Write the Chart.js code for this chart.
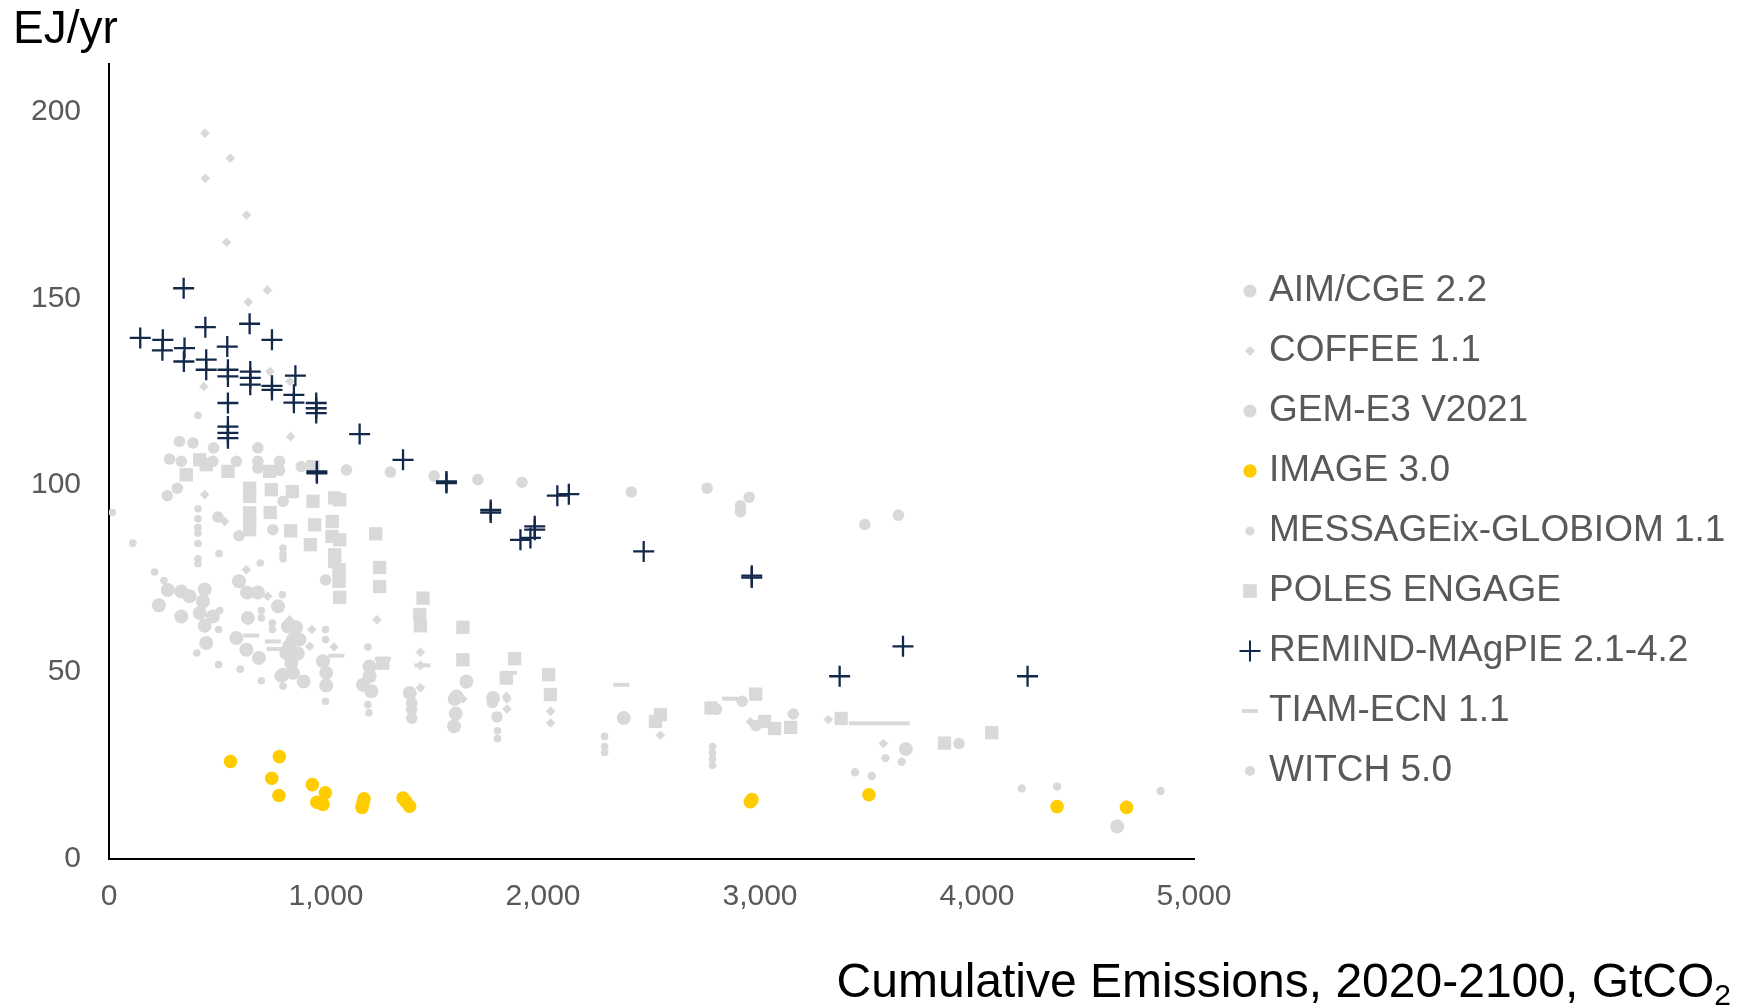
<!DOCTYPE html>
<html>
<head>
<meta charset="utf-8">
<script src="https://cdn.jsdelivr.net/npm/chart.js@4.4.1/dist/chart.umd.min.js"></script>
<style>
  html, body { margin: 0; padding: 0; background: #ffffff; }
  canvas { display: block; }
</style>
</head>
<body>
<canvas id="c" width="1750" height="1007"></canvas>
<script>
// ---------------- DATA (x: cumulative emissions GtCO2, y: EJ/yr) ----------------
const seriesNames = ['AIM/CGE 2.2','COFFEE 1.1','GEM-E3 V2021','IMAGE 3.0','MESSAGEix-GLOBIOM 1.1','POLES ENGAGE','REMIND-MAgPIE 2.1-4.2','TIAM-ECN 1.1','WITCH 5.0'];
const xTicks = [0,1000,2000,3000,4000,5000];
const yTicks = [0,50,100,150,200];

const aimCge = [[271,72],[333,71.6],[371,70.3],[441,72.1],[433,68.9],[230,67.9],[333,64.9],[418,65.8],[441,62.4],[479,64.9],[599,74.3],[636,71.3],[686,71.3],[779,67.6],[640,64.5],[448,57.8],[587,59.1],[633,56],[691,53.8],[897,47.5],[825,62.2],[848,58.7],[817,55.1],[840,52.4],[802,49.3],[878,58.7],[794,49],[848,49.8],[862,62],[830,57],[870,55],[986,52.9],[1001,49.8],[1001,46.4],[1201,51.5],[1201,48.9],[1170,46.6],[1209,44.9],[1386,44.4],[1601,43.5],[1770,43.1],[1647,47.5],[1593,42.8],[1598,38.9],[1590,35.5],[2372,37.7],[3672,29.4],[4646,8.7]];
const coffee = [[442,194.2],[559,187.5],[444,182.1],[634,172.3],[542,165],[730,152.2],[642,149],[742,130.4],[834,127.8],[437,126.4],[837,113],[441,97.5],[533,90.3],[633,77.4],[731,70.3],[832,64],[935,61.4],[925,56.9],[1037,56.7],[1235,64],[1435,55.3],[1435,51.8],[1435,45.8],[1831,43.5],[1631,42.8],[1834,42.8],[1834,40.1],[2035,39.5],[2035,36.4],[2541,33.1],[2956,36.7],[3315,37.3],[3569,30.9]];
const gemE3 = [[1094,104.1],[1297,103.5],[1498,102.5],[1700,101.5],[1903,100.8],[2407,98.2],[2756,99.2],[2950,96.8],[2910,94.5],[2910,92.9],[3483,89.5],[3638,92],[325,111.7],[387,111.3],[482,110],[279,107],[333,106.4],[479,106.4],[587,106.4],[686,110],[686,106.4],[686,104.6],[786,106.4],[786,104],[886,105],[315,99.2],[269,97.2],[502,91.5],[599,86.5],[755,88.1],[802,95.7],[998,74.7],[1644,47.1],[1767,41.9],[1788,38],[1395,41.7],[1395,40],[1395,37.7],[2800,40.1],[2918,42.2],[2982,35.7],[3153,38.8],[3917,30.9]];
const image = [[560,26.1],[785,27.4],[750,21.6],[783,17],[937,19.9],[997,17.7],[958,15.2],[986,14.6],[1175,16.1],[1166,13.8],[1170,15],[1355,16.3],[1385,14.1],[1368,15.4],[2963,15.9],[2955,15.3],[3502,17.2],[4369,14],[4689,13.8]];
const message = [[15,92.7],[110,84.5],[410,118.7],[410,93.7],[410,91],[410,88.7],[410,87.2],[410,84.4],[410,80.3],[410,79],[210,76.8],[253,74.5],[510,66.5],[405,55.1],[505,61.4],[505,52],[605,50.8],[702,47.7],[802,46.2],[802,83.2],[802,81.6],[802,80.3],[507,81.7],[697,79.2],[702,66.5],[702,64.5],[799,70.7],[753,63.1],[753,61.4],[998,61.4],[998,58.7],[998,42.2],[1193,56.7],[1193,41.3],[1198,39.1],[2284,32.8],[2284,30.1],[2284,28.5],[2781,30.1],[2781,28.4],[2781,26.8],[2781,25.1],[1790,34.3],[1790,32.2]];
const poles = [[418,106.8],[448,105.5],[356,102.8],[548,103.7],[740,103.7],[940,105],[648,99.2],[648,97],[748,98.8],[845,98.3],[940,95.7],[1040,96.6],[1063,96.1],[648,92.6],[648,90.3],[648,88.1],[743,92.7],[837,87.8],[948,89.4],[1029,90.3],[928,84.1],[1027,86.3],[1063,85.4],[1040,81.4],[1040,79.6],[1229,87],[1060,77.4],[1060,74.3],[1247,78],[1247,72.9],[1063,70],[1447,69.8],[1432,65.4],[1435,62.4],[1631,62],[1631,53.3],[1869,53.6],[1831,48.4],[2026,49.3],[2034,44],[1262,52.4],[2541,38.6],[2518,36.8],[2774,40.4],[2980,44.1],[3021,36.8],[3067,34.9],[3141,35.2],[3374,37.6],[3850,31],[4068,33.8]];
const remind = [[344,152.7],[144,139.4],[248,138.9],[246,136.1],[348,136.7],[345,133.1],[444,142.3],[448,133.6],[448,130.9],[545,137.1],[548,130.9],[548,129.1],[548,122],[548,115.7],[548,114],[548,112.6],[648,143.2],[651,130.4],[651,128.7],[651,126.9],[751,138.9],[751,126.6],[751,125.5],[859,129.3],[852,124.2],[852,122.1],[955,122],[955,120.6],[955,119.3],[1155,113.7],[1355,106.8],[958,103.7],[958,103.2],[1555,100.6],[1555,101],[1759,93.4],[1759,92.7],[1896,85.4],[1942,85.9],[1962,89],[1962,88.1],[2066,97.2],[2119,97.6],[2464,82.3],[2962,75.8],[2962,75.3],[3367,48.9],[3659,56.9],[4233,48.9]];
const tiam = [[656,59.8],[755,58.2],[763,56.2],[1048,54.4],[1262,53.5],[1444,51.8],[1843,49.8],[2361,46.6],[2862,42.9],[3447,36.3],[3515,36.3],[3583,36.3],[3653,36.3]];
const witch = [[3438,23.2],[3515,22.2],[3578,27],[3653,26],[4206,18.9],[4369,19.4],[4846,18.2]];

// ---------------- STYLE ----------------
const GREY = '#d9d9d9', NAVY = '#13294b', YELLOW = '#ffcc00', TXT = '#595959';
const FONT = "'Liberation Sans', Arial, sans-serif";
const toPts = arr => arr.map(p => ({x: p[0], y: p[1]}));

function ds(label, data, style, radius, color, bw, order) {
  return {
    label, data: toPts(data), pointStyle: style, pointRadius: radius, pointHoverRadius: radius,
    backgroundColor: color, borderColor: color, borderWidth: bw, pointBorderWidth: bw,
    showLine: false, order
  };
}
const datasets = [
  ds(seriesNames[0], aimCge, 'circle', 7, GREY, 0, 8),
  ds(seriesNames[1], coffee, 'rectRot', 4.8, GREY, 0, 7),
  ds(seriesNames[2], gemE3, 'circle', 5.8, GREY, 0, 6),
  ds(seriesNames[3], image, 'circle', 6.8, YELLOW, 0, 1),
  ds(seriesNames[4], message, 'circle', 3.8, GREY, 0, 5),
  ds(seriesNames[5], poles, 'rect', 9.4, GREY, 0, 4),
  ds(seriesNames[6], remind, 'cross', 10.5, NAVY, 2.3, 0),
  ds(seriesNames[7], tiam, 'line', 8, GREY, 4, 3),
  ds(seriesNames[8], witch, 'circle', 4.2, GREY, 0, 2)
];

// legend icons
function icon(fn) {
  const c = document.createElement('canvas');
  c.width = 26; c.height = 26;
  const g = c.getContext('2d');
  fn(g, 13, 13);
  return c;
}
const circ = (r, col) => icon((g, x, y) => { g.fillStyle = col; g.beginPath(); g.arc(x, y, r, 0, Math.PI*2); g.fill(); });
const legendIcons = [
  circ(6.5, GREY),
  icon((g,x,y) => { g.fillStyle = GREY; g.beginPath(); g.moveTo(x, y-5); g.lineTo(x+5, y); g.lineTo(x, y+5); g.lineTo(x-5, y); g.closePath(); g.fill(); }),
  circ(6.5, GREY),
  circ(6.7, YELLOW),
  circ(4.6, GREY),
  icon((g,x,y) => { g.fillStyle = GREY; g.fillRect(x-6.8, y-6.8, 13.6, 13.6); }),
  icon((g,x,y) => { g.strokeStyle = NAVY; g.lineWidth = 2; g.beginPath(); g.moveTo(x-10.5, y); g.lineTo(x+10.5, y); g.moveTo(x, y-10.5); g.lineTo(x, y+10.5); g.stroke(); }),
  icon((g,x,y) => { g.fillStyle = GREY; g.fillRect(x-8, y-2, 16, 4); }),
  circ(5, GREY)
];

const titlePlugin = {
  id: 'titles',
  afterDraw(chart) {
    const ctx = chart.ctx;
    ctx.save();
    ctx.fillStyle = '#000000';
    ctx.textBaseline = 'alphabetic';
    ctx.textAlign = 'left';
    ctx.font = "46px " + FONT;
    ctx.fillText('EJ/yr', 13, 43);
    const main = 'Cumulative Emissions, 2020-2100, GtCO';
    ctx.font = "48px " + FONT;
    const w = ctx.measureText(main).width;
    ctx.font = "30px " + FONT;
    const ws = ctx.measureText('2').width;
    const right = 1731;
    ctx.font = "48px " + FONT;
    ctx.fillText(main, right - ws - w, 997);
    ctx.font = "30px " + FONT;
    ctx.fillText('2', right - ws, 1005);
    ctx.restore();
  }
};

new Chart(document.getElementById('c'), {
  type: 'scatter',
  data: { datasets },
  plugins: [titlePlugin],
  options: {
    responsive: false,
    animation: false,
    devicePixelRatio: 1,
    layout: { padding: { top: 64, left: 0, right: 25.5, bottom: 9 } },
    plugins: {
      tooltip: { enabled: false },
      legend: {
        position: 'right',
        align: 'center',
        maxWidth: 498,
        labels: {
          usePointStyle: true,
          boxWidth: 1,
          boxHeight: 8,
          padding: 23,
          color: TXT,
          font: { family: FONT, size: 37 },
          sort: (a, b) => a.datasetIndex - b.datasetIndex,
          generateLabels(chart) {
            const items = Chart.defaults.plugins.legend.labels.generateLabels(chart);
            items.forEach(it => { it.pointStyle = legendIcons[it.datasetIndex]; it.fontColor = TXT; it.lineWidth = 0; });
            return items;
          }
        }
      }
    },
    scales: {
      x: {
        type: 'linear', position: 'bottom', min: 0, max: 5000,
        afterBuildTicks: s => { s.ticks = xTicks.map(v => ({value: v})); },
        grid: { display: false, drawTicks: false },
        border: { display: true, color: '#000000', width: 2 },
        ticks: { color: TXT, font: { family: FONT, size: 30 }, padding: 20, maxRotation: 0,
                 callback: v => v.toLocaleString('en-US') },
        afterFit: s => { s.height = 139; }
      },
      y: {
        type: 'linear', position: 'left', min: 0, max: 212.7,
        afterBuildTicks: s => { s.ticks = yTicks.map(v => ({value: v})); },
        grid: { display: false, drawTicks: false },
        border: { display: true, color: '#000000', width: 2 },
        ticks: { color: TXT, font: { family: FONT, size: 30 }, padding: 28 },
        afterFit: s => { s.width = 109; }
      },
      gap: {
        type: 'linear', position: 'right', display: true,
        grid: { display: false, drawTicks: false },
        border: { display: false },
        ticks: { display: false },
        afterFit: s => { s.width = 32.5; }
      }
    }
  }
});
</script>
</body>
</html>
